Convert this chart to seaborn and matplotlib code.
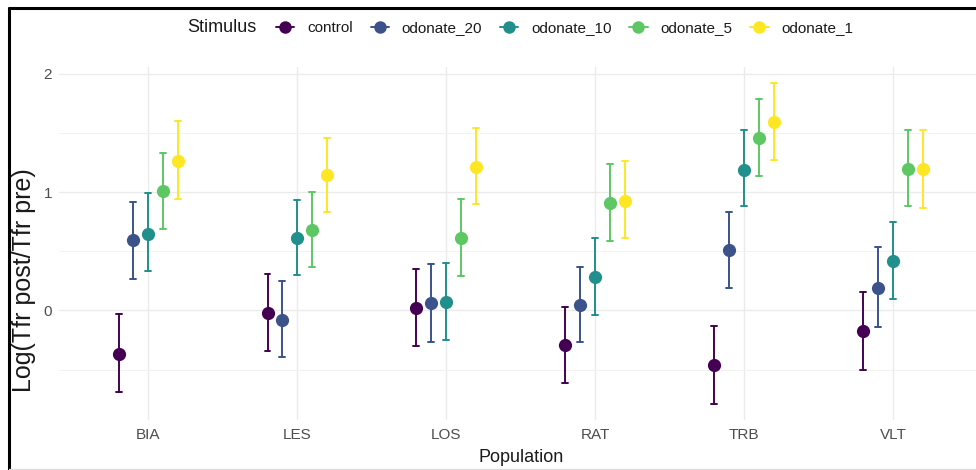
import numpy as np
import pandas as pd
import seaborn as sns
import matplotlib
matplotlib.use("Agg")
import matplotlib.pyplot as plt
from matplotlib.lines import Line2D

# ---------------- data ----------------
populations = ["BIA", "LES", "LOS", "RAT", "TRB", "VLT"]
stimuli = ["control", "odonate_20", "odonate_10", "odonate_5", "odonate_1"]

est_control = [-0.37, -0.02, 0.02, -0.295, -0.46, -0.17]
est_o20 = [0.60, -0.08, 0.06, 0.045, 0.51, 0.19]
est_o10 = [0.65, 0.615, 0.07, 0.28, 1.19, 0.42]
est_o5 = [1.01, 0.68, 0.615, 0.905, 1.455, 1.20]
est_o1 = [1.26, 1.145, 1.215, 0.925, 1.59, 1.20]

lo_control = [-0.69, -0.34, -0.30, -0.61, -0.79, -0.50]
lo_o20 = [0.27, -0.39, -0.27, -0.27, 0.19, -0.14]
lo_o10 = [0.33, 0.30, -0.25, -0.04, 0.88, 0.095]
lo_o5 = [0.69, 0.365, 0.29, 0.59, 1.14, 0.88]
lo_o1 = [0.94, 0.83, 0.90, 0.61, 1.27, 0.87]

hi_control = [-0.03, 0.31, 0.35, 0.03, -0.13, 0.155]
hi_o20 = [0.92, 0.25, 0.39, 0.37, 0.835, 0.535]
hi_o10 = [0.99, 0.93, 0.40, 0.61, 1.53, 0.75]
hi_o5 = [1.33, 1.00, 0.94, 1.24, 1.785, 1.53]
hi_o1 = [1.60, 1.46, 1.54, 1.26, 1.925, 1.53]

y_ticks = [0, 1, 2]
y_minor = [-0.5, 0.5, 1.5]

colors = ["#440154", "#3B528B", "#21908C", "#5DC863", "#FDE725"]

est = dict(zip(stimuli, [est_control, est_o20, est_o10, est_o5, est_o1]))
lo = dict(zip(stimuli, [lo_control, lo_o20, lo_o10, lo_o5, lo_o1]))
hi = dict(zip(stimuli, [hi_control, hi_o20, hi_o10, hi_o5, hi_o1]))

# long table: lower, estimate, upper per group -> median = estimate, 0-100 pi = interval
rows = []
for s in stimuli:
    for i, p in enumerate(populations):
        for v in (lo[s][i], est[s][i], hi[s][i]):
            rows.append({"Population": p, "Stimulus": s, "value": v})
df = pd.DataFrame(rows)

# ---------------- style ----------------
sns.set_style("white")
plt.rcParams["font.family"] = ["Liberation Sans", "DejaVu Sans"]

W, H = 976, 470
fig = plt.figure(figsize=(W / 100, H / 100), dpi=100)

ax_left, ax_right = 59.0, 982.4
ax_top, ax_bot = 66.7, 420.0
ax = fig.add_axes([ax_left / W, 1 - ax_bot / H, (ax_right - ax_left) / W, (ax_bot - ax_top) / H])

sns.pointplot(
    data=df, x="Population", y="value", hue="Stimulus",
    order=populations, hue_order=stimuli, palette=colors,
    estimator="median", errorbar=("pi", 100),
    dodge=0.4, linestyle="none", markers="o", markersize=9.5,
    markeredgewidth=0, capsize=0.04,
    err_kws={"linewidth": 1.4}, legend=False, ax=ax,
)

ax.set_xlim(-0.6, 5.6)
ax.set_ylim(-0.926, 2.061)
ax.set_yticks(y_ticks)
ax.set_yticks(y_minor, minor=True)
ax.set_yticklabels([str(t) for t in y_ticks])
ax.grid(True, which="major", color="#EBEBEB", linewidth=1.0, zorder=0)
ax.grid(True, which="minor", axis="y", color="#F2F2F2", linewidth=0.7, zorder=0)
ax.set_axisbelow(True)
for sp in ax.spines.values():
    sp.set_visible(False)
ax.tick_params(axis="both", which="both", length=0, labelsize=11, colors="#4D4D4D")
ax.tick_params(axis="x", pad=6)
ax.tick_params(axis="y", pad=5)
ax.set_xlabel("Population", fontsize=13, color="#1a1a1a", labelpad=5)
ax.set_ylabel("Log(Tfr post/Tfr pre)", fontsize=18, color="#1a1a1a")
ax.yaxis.set_label_coords((24 - ax_left) / (ax_right - ax_left), (ax_bot - 280) / (ax_bot - ax_top))
ax.yaxis.label.set_va("center")

# legend
fig.text(187 / W, 1 - 28 / H, "Stimulus", fontsize=13, color="#1a1a1a", va="center", ha="left")
handles = [Line2D([], [], color=c, marker="o", markersize=9, linewidth=1.4, markeredgewidth=0)
           for c in colors]
fig.legend(handles, stimuli, loc="center left", bbox_to_anchor=(276 / W, 1 - 28 / H),
           ncol=5, frameon=False, fontsize=11, handlelength=1.2, handletextpad=0.85,
           columnspacing=1.15, borderpad=0, borderaxespad=0, labelcolor="#1a1a1a")

# frame lines (screenshot border)
fig.add_artist(Line2D([9 / W, 9 / W], [0, 1 - 8 / H], color="black", linewidth=2.2))
fig.add_artist(Line2D([9 / W, 1], [1 - 8 / H, 1 - 8 / H], color="black", linewidth=2.2))
fig.add_artist(Line2D([9 / W, 1], [1.5 / H, 1.5 / H], color="#DDDDDD", linewidth=1.0))

fig.savefig("out.png", dpi=100)
